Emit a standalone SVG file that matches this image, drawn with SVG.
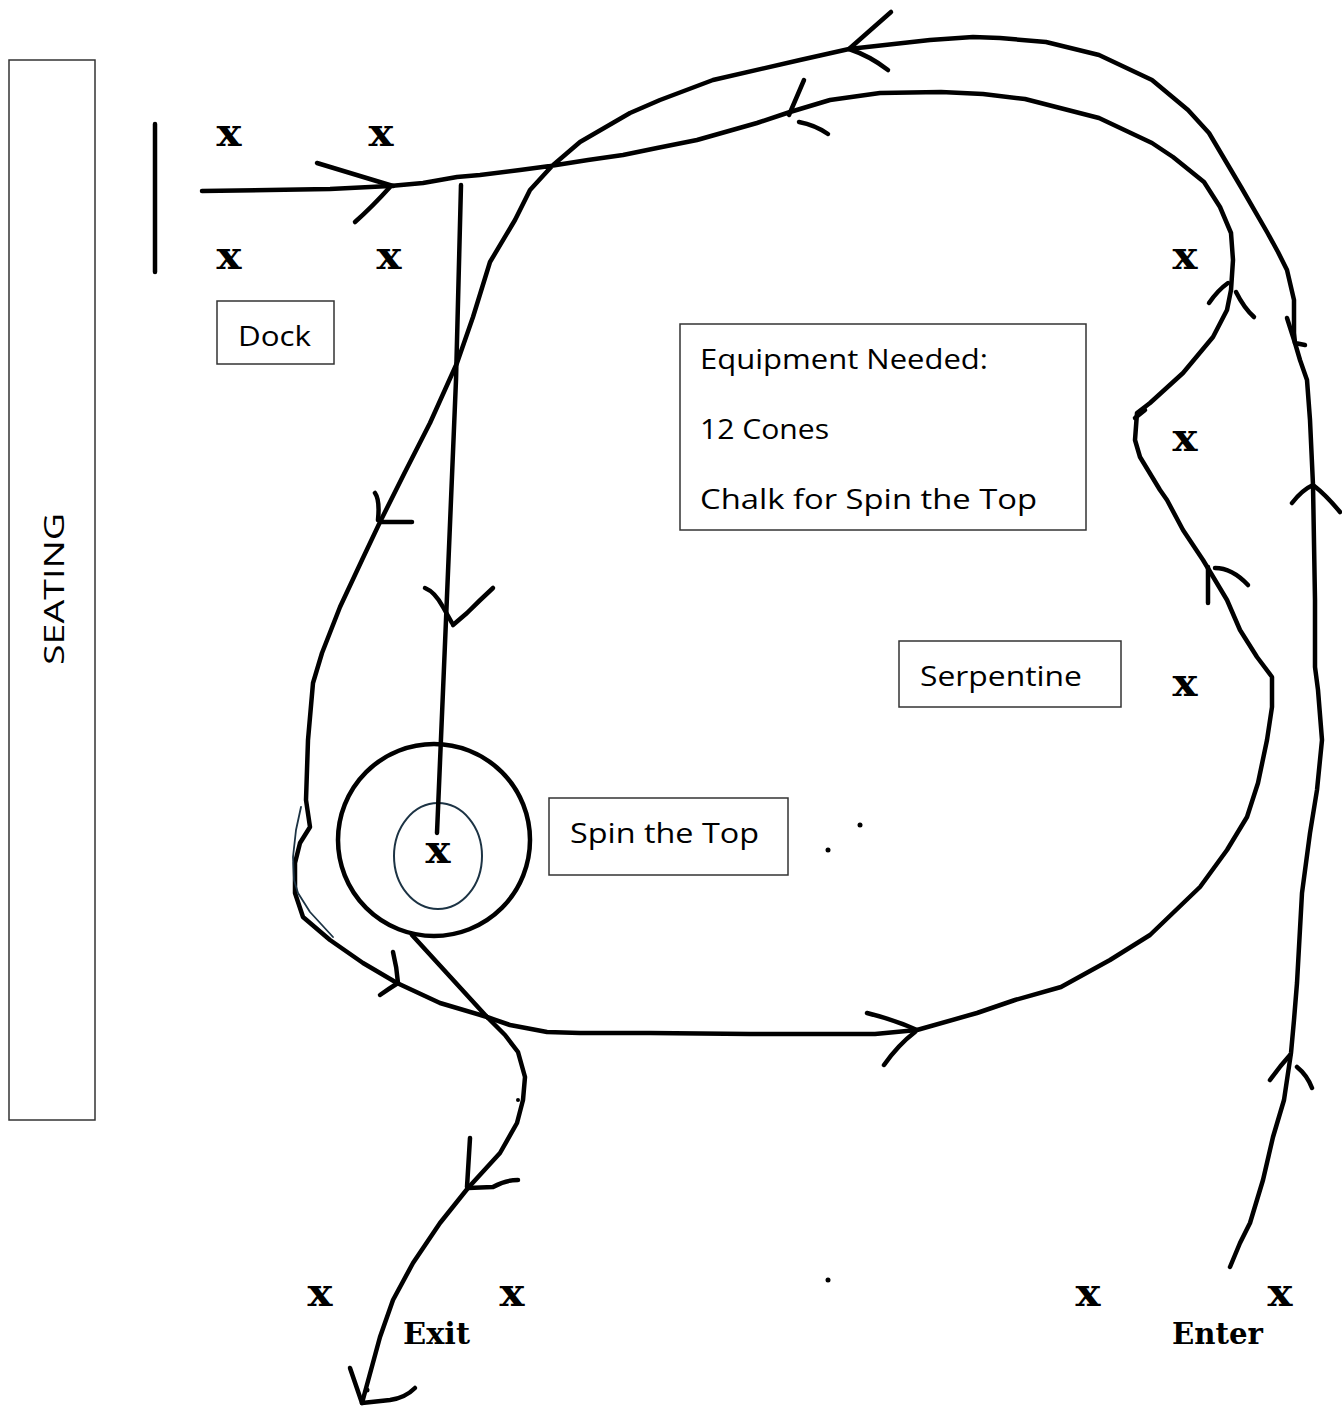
<svg xmlns="http://www.w3.org/2000/svg" width="1342" height="1406" viewBox="0 0 1342 1406">
<style>
.ln{fill:none;stroke:#000;stroke-width:4.5;stroke-linecap:round;stroke-linejoin:round}
.thin{fill:none;stroke:#1c3344;stroke-width:1.8;stroke-linecap:round;stroke-linejoin:round}
.box{fill:#fff;stroke:#333;stroke-width:1.5}
.lbl{font-family:"Open Sans","Noto Sans",sans-serif;font-size:28px;fill:#000}
.cone{font-family:"DejaVu Serif","Liberation Serif",serif;font-weight:bold;font-size:40px;fill:#000;text-anchor:middle}
.gate{font-family:"DejaVu Serif","Liberation Serif",serif;font-weight:bold;font-size:30px;fill:#000}
.dot{fill:#000}
</style>
<rect width="1342" height="1406" fill="#fff"/>

<g id="seating">
<rect class="box" x="9" y="60" width="86" height="1060"/>
<text class="lbl" transform="translate(64,589) rotate(-90)" text-anchor="middle" textLength="152" lengthAdjust="spacingAndGlyphs">SEATING</text>
</g>

<g id="dock">
<rect class="box" x="217" y="301" width="117" height="63"/>
<text class="lbl" x="238" y="346" textLength="73" lengthAdjust="spacingAndGlyphs">Dock</text>
</g>

<g id="equipment">
<rect class="box" x="680" y="324" width="406" height="206"/>
<text class="lbl" x="700" y="369" textLength="288" lengthAdjust="spacingAndGlyphs">Equipment Needed:</text>
<text class="lbl" x="700" y="439" textLength="129" lengthAdjust="spacingAndGlyphs">12 Cones</text>
<text class="lbl" x="700" y="509" textLength="337" lengthAdjust="spacingAndGlyphs">Chalk for Spin the Top</text>
</g>

<g id="serpentine">
<rect class="box" x="899" y="641" width="222" height="66"/>
<text class="lbl" x="920" y="686" textLength="162" lengthAdjust="spacingAndGlyphs">Serpentine</text>
</g>

<g id="spin-the-top">
<rect class="box" x="549" y="798" width="239" height="77"/>
<text class="lbl" x="570" y="843" textLength="189" lengthAdjust="spacingAndGlyphs">Spin the Top</text>
</g>

<g id="spin-circle">
<circle cx="434" cy="840" r="96" fill="none" stroke="#000" stroke-width="4.5"/>
<ellipse cx="438" cy="856" rx="44" ry="53" fill="none" stroke="#1c3344" stroke-width="2"/>
</g>

<g id="cones">
<text class="cone" x="229" y="146" textLength="25" lengthAdjust="spacingAndGlyphs">x</text>
<text class="cone" x="381" y="146" textLength="25" lengthAdjust="spacingAndGlyphs">x</text>
<text class="cone" x="229" y="269" textLength="25" lengthAdjust="spacingAndGlyphs">x</text>
<text class="cone" x="389" y="269" textLength="25" lengthAdjust="spacingAndGlyphs">x</text>
<text class="cone" x="1185" y="269" textLength="25" lengthAdjust="spacingAndGlyphs">x</text>
<text class="cone" x="1185" y="451" textLength="25" lengthAdjust="spacingAndGlyphs">x</text>
<text class="cone" x="1185" y="696" textLength="25" lengthAdjust="spacingAndGlyphs">x</text>
<text class="cone" x="438" y="863" textLength="25" lengthAdjust="spacingAndGlyphs">x</text>
<text class="cone" x="320" y="1306" textLength="25" lengthAdjust="spacingAndGlyphs">x</text>
<text class="cone" x="512" y="1306" textLength="25" lengthAdjust="spacingAndGlyphs">x</text>
<text class="cone" x="1088" y="1306" textLength="25" lengthAdjust="spacingAndGlyphs">x</text>
<text class="cone" x="1280" y="1306" textLength="25" lengthAdjust="spacingAndGlyphs">x</text>
</g>

<g id="gates">
<text class="gate" x="403" y="1344" textLength="67" lengthAdjust="spacingAndGlyphs">Exit</text>
<text class="gate" x="1172" y="1344" textLength="91" lengthAdjust="spacingAndGlyphs">Enter</text>
</g>

<g id="connectors">
<line class="ln" x1="155" y1="124" x2="155" y2="272"/>
<polyline class="ln" points="1230,1267 1240,1243 1250,1223 1263,1180 1273,1137 1284,1100 1291,1053 1294,1020 1297,983 1302,893 1310,833 1317,790 1322,740 1318,690 1315,667 1315,600 1313,485 1310,420 1307,380 1300,360 1295,343 1294,333 1294,300 1287,270 1278,252 1267,232 1241,187 1209,133 1188,110 1152,80 1099,55 1046,42 1000,38 973,37 930,40 849,49 800,60 713,80 660,100 630,113 580,142 552,166 530,190 515,220 490,262 473,317 457,363 430,423 405,472 380,522 362,560 340,607 322,653 313,683 308,740 306,800 310,827 300,843 295,863 295,893 303,917 330,940 363,963 397,983 440,1003 487,1017 510,1025 547,1032 580,1033 650,1033 750,1034 826,1034 875,1034 917,1030 977,1013 1015,1000 1061,987 1110,960 1150,935 1200,887 1227,850 1247,817 1258,783 1267,740 1272,707 1272,677 1257,657 1240,630 1227,600 1203,560 1183,530 1167,500 1160,490 1140,457 1135,440 1137,413 1150,403 1183,373 1213,337 1227,310 1231,290 1233,260 1231,233 1220,207 1204,182 1173,157 1152,143 1099,118 1025,99 983,94 941,92 880,93 830,100 790,112 757,123 697,140 657,148 623,155 588,160 550,166 520,170 480,175 457,177 423,183 390,186 330,189 202,191"/>
<polyline class="thin" points="301,807 296,830 293,857 294,880 298,893 310,912 333,937"/>
<polyline class="ln" points="461,185 456,380 446,620 437,833"/>
<line class="ln" x1="412" y1="935" x2="487" y2="1017"/>
<polyline class="ln" points="487,1017 505,1035 518,1052 525,1077 523,1100 517,1123 500,1153 468,1188 440,1223 413,1263 393,1300 380,1337 362,1403"/>
<g id="arrowheads">
<path class="ln" d="M317,163 L393,186 M355,222 Q372,207 390,187"/>
<path class="ln" d="M891,12 L849,49 M849,49 Q870,56 888,70"/>
<path class="ln" d="M804,80 L789,115 M799,122 Q815,125 828,134"/>
<path class="ln" d="M1209,303 Q1218,290 1228,283 M1236,292 Q1244,308 1254,317"/>
<path class="ln" d="M1287,318 L1295,343 L1305,345"/>
<path class="ln" d="M1292,503 Q1302,490 1313,485 Q1326,495 1340,512"/>
<path class="ln" d="M1208,603 L1208,567 M1215,568 Q1232,568 1248,585"/>
<path class="ln" d="M1135,418 L1145,410"/>
<path class="ln" d="M1270,1080 Q1280,1066 1290,1055 M1297,1067 Q1307,1075 1312,1088"/>
<path class="ln" d="M867,1013 Q895,1020 917,1030 M884,1065 Q898,1045 915,1032"/>
<path class="ln" d="M393,952 Q397,968 398,983 M380,995 Q390,988 398,983"/>
<path class="ln" d="M375,493 Q380,500 378,520 M380,522 L412,522"/>
<path class="ln" d="M425,588 Q435,592 443,607 L452,623 M493,588 Q480,600 467,613 L453,625"/>
<path class="ln" d="M470,1138 L467,1187 M518,1180 Q505,1180 493,1187 L468,1188"/>
<path class="ln" d="M350,1368 L362,1403 M415,1388 Q405,1398 390,1400 L362,1403"/>
</g>
</g>

<g id="dots">
<circle class="dot" cx="860" cy="825" r="2.5"/>
<circle class="dot" cx="828" cy="850" r="2.5"/>
<circle class="dot" cx="518" cy="1100" r="2"/>
<circle class="dot" cx="828" cy="1280" r="2.5"/>
<circle class="dot" cx="367" cy="1390" r="2.5"/>
</g>
</svg>
